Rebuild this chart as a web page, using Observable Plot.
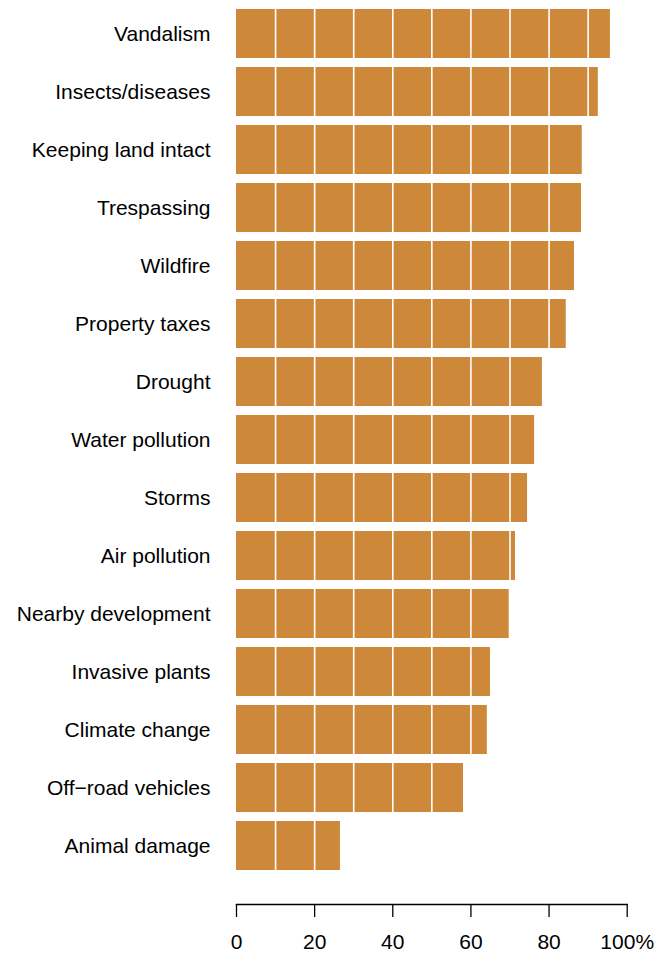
<!DOCTYPE html>
<html>
<head>
<meta charset="utf-8">
<script src="https://cdn.jsdelivr.net/npm/d3@7"></script>
<script src="https://cdn.jsdelivr.net/npm/@observablehq/plot@0.6"></script>
<style>
  html, body { margin: 0; padding: 0; background: #fff; }
</style>
</head>
<body>
<div id="chart"></div>
<script>
const categories = [
  "Vandalism", "Insects/diseases", "Keeping land intact", "Trespassing",
  "Wildfire", "Property taxes", "Drought", "Water pollution", "Storms",
  "Air pollution", "Nearby development", "Invasive plants", "Climate change",
  "Off\u2212road vehicles", "Animal damage"
];
const values = [95.7, 92.6, 88.5, 88.3, 86.5, 84.4, 78.3, 76.3, 74.5, 71.4, 69.8, 65.0, 64.2, 58.1, 26.6];
const tickValues = [0, 20, 40, 60, 80, 100];
const tickLabels = ["0", "20", "40", "60", "80", "100%"];
const gridValues = [10, 20, 30, 40, 50, 60, 70, 80, 90];

const data = categories.map((c, i) => ({category: c, value: values[i]}));

const chart = Plot.plot({
  width: 670,
  height: 953,
  marginLeft: 236,
  marginRight: 43.3,
  marginTop: 8,
  marginBottom: 83,
  style: {fontFamily: "'Liberation Sans', Arial, Helvetica, sans-serif", fontSize: "21px", background: "#fff", color: "#000"},
  x: {domain: [0, 100]},
  y: {domain: categories, paddingInner: 0.156, paddingOuter: 0},
  marks: [
    Plot.barX(data, {x: "value", y: "category", fill: "#CD8839"}),
    Plot.ruleX(gridValues, {stroke: "#fff", strokeWidth: 1.6}),
    Plot.axisY({tickSize: 0, tickPadding: 26, fontSize: 21, label: null}),
    Plot.frame({anchor: "bottom", dy: 34, stroke: "#000", strokeWidth: 1.3}),
    Plot.axisX({
      ticks: tickValues,
      tickFormat: (d) => tickLabels[tickValues.indexOf(d)],
      tickSize: 13,
      tickPadding: 17,
      dy: 34,
      fontSize: 21,
      stroke: "#000",
      strokeWidth: 1.3,
      label: null
    })
  ]
});
document.getElementById("chart").appendChild(chart);
</script>
</body>
</html>
